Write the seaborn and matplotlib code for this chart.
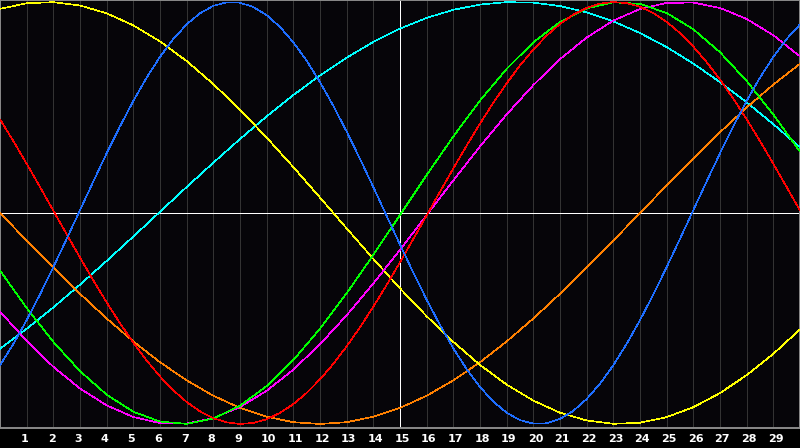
import matplotlib
matplotlib.use("Agg")
import matplotlib.pyplot as plt
import matplotlib.transforms as mtransforms
import pandas as pd
import seaborn as sns

# ---- data (range -1..1) ----
days = list(range(31))                       # daily samples
half_days = [i / 2 for i in range(61)]       # half-day samples (short cycles)
tick_days = list(range(1, 30))
tick_labels = [str(d) for d in tick_days]

physical = [-0.7216, -0.6205, -0.5078, -0.3859, -0.2566, -0.1226, 0.0136, 0.1497, 0.2829, 0.4109,
            0.5312, 0.6417, 0.7400, 0.8248, 0.8941, 0.9467, 0.9818, 0.9985, 0.9966, 0.9762,
            0.9376, 0.8816, 0.8090, 0.7216, 0.6204, 0.5078, 0.3859, 0.2566, 0.1226, -0.0136,
            -0.1497, -0.2829, -0.4109, -0.5312, -0.6417, -0.7400, -0.8248, -0.8941, -0.9467, -0.9818,
            -0.9985, -0.9966, -0.9762, -0.9376, -0.8816, -0.8090, -0.7216, -0.6204, -0.5078, -0.3859,
            -0.2566, -0.1226, 0.0136, 0.1497, 0.2829, 0.4109, 0.5312, 0.6417, 0.7400, 0.8248,
            0.8941]
emotional = [0.4440, 0.3409, 0.2334, 0.1231, 0.0112, -0.1009, -0.2115, -0.3197, -0.4237, -0.5225,
             -0.6147, -0.6992, -0.7748, -0.8407, -0.8960, -0.9401, -0.9724, -0.9924, -0.9999, -0.9949,
             -0.9774, -0.9475, -0.9058, -0.8526, -0.7886, -0.7150, -0.6321, -0.5416, -0.4440, -0.3409,
             -0.2334, -0.1231, -0.0112, 0.1009, 0.2115, 0.3197, 0.4237, 0.5225, 0.6147, 0.6992,
             0.7748, 0.8407, 0.8960, 0.9401, 0.9724, 0.9924, 0.9999, 0.9949, 0.9774, 0.9475,
             0.9058, 0.8526, 0.7886, 0.7150, 0.6321, 0.5416, 0.4440, 0.3409, 0.2334, 0.1231,
             0.0112]
intellectual = [-0.2726, -0.4498, -0.6107, -0.7495, -0.8612, -0.9419, -0.9884, -0.9993, -0.9740, -0.9135,
                -0.8201, -0.6969, -0.5486, -0.3804, -0.1985, -0.0094, 0.1800, 0.3629, 0.5327, 0.6833,
                0.8090, 0.9056, 0.9695, 0.9984, 0.9911, 0.9480, 0.8707, 0.7618, 0.6254, 0.4666,
                0.2907]
intuitive = [-0.4672, -0.6063, -0.7290, -0.8318, -0.9118, -0.9669, -0.9957, -0.9974, -0.9718, -0.9197,
             -0.8425, -0.7424, -0.6220, -0.4847, -0.3341, -0.1743, -0.0099, 0.1547, 0.3153, 0.4672,
             0.6063, 0.7290, 0.8318, 0.9118, 0.9669, 0.9957, 0.9974, 0.9718, 0.9197, 0.8425,
             0.7424]
aesthetic = [0.9675, 0.9940, 0.9993, 0.9834, 0.9465, 0.8893, 0.8133, 0.7201, 0.6110, 0.4894,
             0.3572, 0.2175, 0.0731, -0.0731, -0.2175, -0.3572, -0.4894, -0.6110, -0.7201, -0.8133,
             -0.8893, -0.9465, -0.9834, -0.9993, -0.9940, -0.9675, -0.9204, -0.8535, -0.7685, -0.6674,
             -0.5519]
awareness = [0.0, -0.1305, -0.2588, -0.3827, -0.5000, -0.6088, -0.7071, -0.7934, -0.8660, -0.9239,
             -0.9659, -0.9914, -1.0000, -0.9914, -0.9659, -0.9239, -0.8660, -0.7934, -0.7071, -0.6088,
             -0.5000, -0.3827, -0.2588, -0.1305, 0.0, 0.1305, 0.2588, 0.3827, 0.5000, 0.6088,
             0.7071]
spiritual = [-0.6433, -0.5491, -0.4474, -0.3395, -0.2270, -0.1113, 0.0059, 0.1231, 0.2385, 0.3507,
             0.4579, 0.5589, 0.6522, 0.7364, 0.8107, 0.8738, 0.9247, 0.9630, 0.9879, 0.9993,
             0.9969, 0.9807, 0.9511, 0.9082, 0.8530, 0.7863, 0.7081, 0.6204, 0.5243, 0.4209,
             0.3116]

series = [
    ("spiritual", days, spiritual),
    ("awareness", days, awareness),
    ("aesthetic", days, aesthetic),
    ("intuitive", days, intuitive),
    ("intellectual", days, intellectual),
    ("emotional", half_days, emotional),
    ("physical", half_days, physical),
]
colors = {
    "physical": "#1e6eff",
    "emotional": "#ff0000",
    "intellectual": "#00ff00",
    "intuitive": "#ff00ff",
    "aesthetic": "#ffff00",
    "awareness": "#ff8000",
    "spiritual": "#00ffff",
}

df = pd.concat(
    [pd.DataFrame({"day": x, "value": y, "cycle": name}) for name, x, y in series],
    ignore_index=True,
)

# ---- figure ----
sns.set_theme(style="dark")
LW = 0.68
fig = plt.figure(figsize=(8, 4.48), dpi=100, facecolor="#000000")
ax = fig.add_axes([0, 20 / 448, 1, 428 / 448])
ax.set_facecolor("#060509")
ax.set_xlim(0, 30)
ax.set_ylim(-1.019, 1.0095)

for d in tick_days:
    if d != 15:
        ax.axvline(d, color="#333333", lw=LW, zorder=1, antialiased=False)
ax.axvline(15, color="white", lw=LW, zorder=2, antialiased=False)
ax.axhline(0, color="white", lw=LW, zorder=2, antialiased=False)

sns.lineplot(data=df, x="day", y="value", hue="cycle", palette=colors,
             hue_order=[s[0] for s in series], ax=ax, legend=False,
             linewidth=0.45, antialiased=False, zorder=3, sort=False, estimator=None)

ax.set_xticks([])
ax.set_yticks([])
ax.set_xlabel("")
ax.set_ylabel("")
ax.grid(False)
for sp in ax.spines.values():
    sp.set_visible(True)
    sp.set_color("#8a8a8a")
    sp.set_linewidth(1.4)

offset = mtransforms.ScaledTranslation(-5.7 / 100, 0, fig.dpi_scale_trans)
trans = mtransforms.blended_transform_factory(ax.transData, ax.transAxes) + offset
for d, lab in zip(tick_days, tick_labels):
    ax.text(d, -0.026, lab, transform=trans, ha="left", va="center",
            color="white", fontsize=8, fontweight="bold",
            family=["DejaVu Sans"], clip_on=False)

fig.savefig("out.png", dpi=100, facecolor=fig.get_facecolor())
